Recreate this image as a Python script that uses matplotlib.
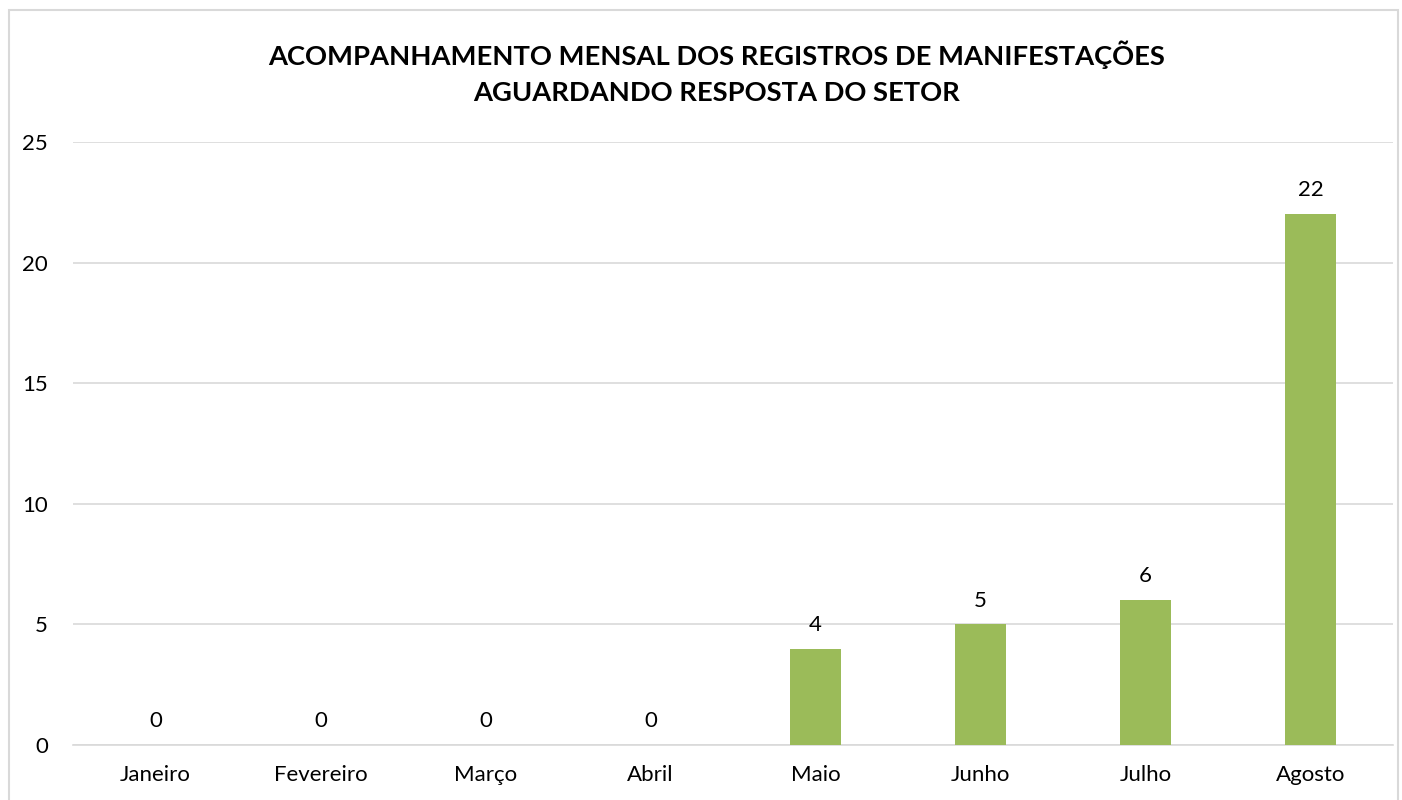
import numpy as np
import matplotlib.pyplot as plt
from matplotlib.patches import Rectangle

meses = ['Janeiro', 'Fevereiro', 'Março', 'Abril', 'Maio', 'Junho', 'Julho', 'Agosto']
aguardando = [0, 0, 0, 0, 4, 5, 6, 22]
yticks = [0, 5, 10, 15, 20, 25]

plt.rcParams['font.family'] = ['Lato', 'DejaVu Sans']

fig = plt.figure(figsize=(14.02, 8.0), dpi=100)
# moldura cinza clara do grafico
fig.patches.append(Rectangle((9 / 1402, -0.01), (1398 - 9) / 1402, 1 - 10 / 800 + 0.01,
                             transform=fig.transFigure, fill=False,
                             edgecolor='#D9D9D9', linewidth=1.5))

ax = fig.add_axes([73 / 1402, 1 - 745 / 800, (1393 - 73) / 1402, (745 - 142) / 800])
x = np.arange(len(meses))
bars = ax.bar(x, aguardando, width=0.31, color='#9BBB59', zorder=3)

for xi, v in zip(x, aguardando):
    ax.annotate(str(v), (xi, v), xytext=(0, 10), textcoords='offset points',
                ha='center', va='bottom', fontsize=16, color='#000000')

ax.set_xlim(-0.5, len(meses) - 0.5)
ax.set_ylim(0, 25)
ax.set_yticks(yticks)
ax.set_xticks(x)
ax.set_xticklabels(meses)
ax.tick_params(axis='both', length=0, labelsize=16, colors='#000000')
ax.tick_params(axis='y', pad=18)
ax.tick_params(axis='x', pad=14.5)
ax.grid(axis='y', color='#D9D9D9', linewidth=1.2, zorder=0)
for s in ['top', 'right', 'left']:
    ax.spines[s].set_visible(False)
ax.spines['bottom'].set_color('#D9D9D9')
ax.spines['bottom'].set_linewidth(1.2)

fig.text(0.511, 1 - 73 / 800,
         'ACOMPANHAMENTO MENSAL DOS REGISTROS DE MANIFESTAÇÕES\nAGUARDANDO RESPOSTA DO SETOR',
         ha='center', va='center', fontsize=19.7, fontweight='bold', linespacing=1.58)

fig.savefig('out.png', dpi=100)
